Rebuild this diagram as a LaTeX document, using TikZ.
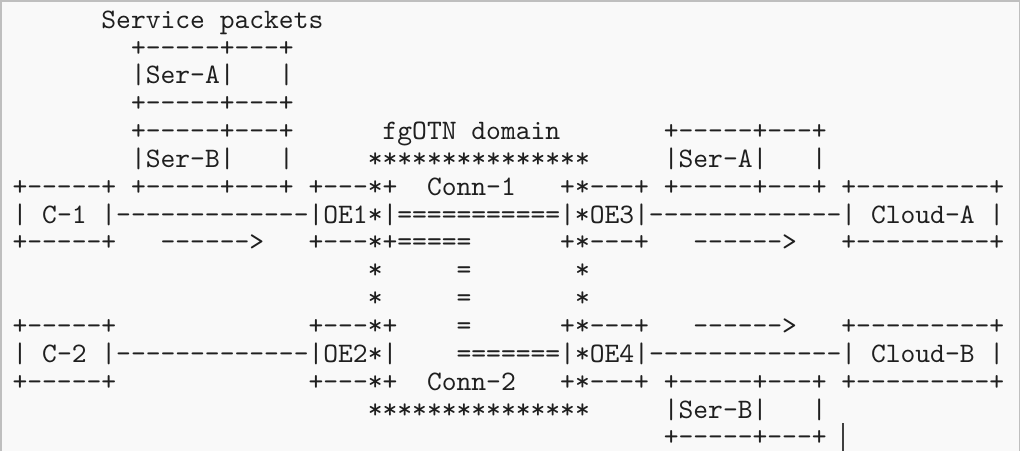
\documentclass[tikz,border=0pt]{standalone}
\usepackage{fontspec}
\setmonofont{lmmono10-regular.otf}
\newcommand\stx[1]{#1}
\newcommand\T[4]{\node[asc] (#1) at ({12.6+14.8*#2},{48+(#3-2)*27.85+8}) {#4};}
\tikzset{
  asc/.style={anchor=base west, inner sep=0pt, outer sep=0pt, text=black!88,
    font=\ttfamily\fontsize{28.19}{30}\selectfont},
}
\begin{document}
\begin{tikzpicture}[x=1pt,y=-1pt]
\useasboundingbox (0,0) rectangle (1025,451);
\fill[white] (0,0) rectangle (1025,451);
\fill[black!2.5] (0,0) rectangle (1020,451);
\draw[black!25,line width=1.5pt] (0.75,451) -- (0.75,0.75) -- (1019.5,0.75) -- (1019.5,451);
% row 1
\T{sp}{6}{1}{Service packets}
% rows 2-4: Ser-A (left)
\T{r2a}{8}{2}{+-----+---+}
\T{r3a}{8}{3}{|Ser-A|}
\T{r3b}{18}{3}{|}
\T{r4a}{8}{4}{+-----+---+}
% row 5
\T{r5a}{8}{5}{+-----+---+}
\T{fg}{25}{5}{fgOTN domain}
\T{r5c}{44}{5}{+-----+---+}
% row 6
\T{r6a}{8}{6}{|Ser-B|}
\T{r6b}{18}{6}{|}
\T{r6c}{24}{6}{\stx{***************}}
\T{r6d}{44}{6}{|Ser-A|}
\T{r6e}{54}{6}{|}
% row 7
\T{r7a}{0}{7}{+-----+}
\T{r7b}{8}{7}{+-----+---+}
\T{r7c}{20}{7}{+---\stx{*}+}
\T{c1}{28}{7}{Conn-1}
\T{r7e}{37}{7}{+\stx{*}---+}
\T{r7f}{44}{7}{+-----+---+}
\T{r7g}{56}{7}{+---------+}
% row 8
\T{r8a}{0}{8}{|}
\T{r8b}{2}{8}{C-1}
\T{r8c}{6}{8}{|-------------|OE1\stx{*}|===========|\stx{*}OE3|-------------|}
\T{r8d}{58}{8}{Cloud-A}
\T{r8e}{66}{8}{|}
% row 9
\T{r9a}{0}{9}{+-----+}
\T{r9b}{10}{9}{------>}
\T{r9c}{20}{9}{+---\stx{*}+=====}
\T{r9d}{37}{9}{+\stx{*}---+}
\T{r9e}{46}{9}{------>}
\T{r9f}{56}{9}{+---------+}
% rows 10-11
\T{r10a}{24}{10}{\stx{*}}
\T{r10b}{30}{10}{=}
\T{r10c}{38}{10}{\stx{*}}
\T{r11a}{24}{11}{\stx{*}}
\T{r11b}{30}{11}{=}
\T{r11c}{38}{11}{\stx{*}}
% row 12
\T{r12a}{0}{12}{+-----+}
\T{r12b}{20}{12}{+---\stx{*}+}
\T{r12c}{30}{12}{=}
\T{r12d}{37}{12}{+\stx{*}---+}
\T{r12e}{46}{12}{------>}
\T{r12f}{56}{12}{+---------+}
% row 13
\T{r13a}{0}{13}{|}
\T{r13b}{2}{13}{C-2}
\T{r13c}{6}{13}{|-------------|OE2\stx{*}|}
\T{r13d}{30}{13}{=======|\stx{*}OE4|-------------|}
\T{r13e}{58}{13}{Cloud-B}
\T{r13f}{66}{13}{|}
% row 14
\T{r14a}{0}{14}{+-----+}
\T{r14b}{20}{14}{+---\stx{*}+}
\T{c2}{28}{14}{Conn-2}
\T{r14d}{37}{14}{+\stx{*}---+}
\T{r14e}{44}{14}{+-----+---+}
\T{r14f}{56}{14}{+---------+}
% row 15
\T{r15a}{24}{15}{\stx{***************}}
\T{r15b}{44}{15}{|Ser-B|}
\T{r15c}{54}{15}{|}
% row 16
\T{r16a}{44}{16}{+-----+---+}
% text cursor
\coordinate (cur1) at (843,423);
\coordinate (cur2) at (843,451);
\draw[black!75,line width=1.4pt] (cur1) -- (cur2);
\end{tikzpicture}
\end{document}
